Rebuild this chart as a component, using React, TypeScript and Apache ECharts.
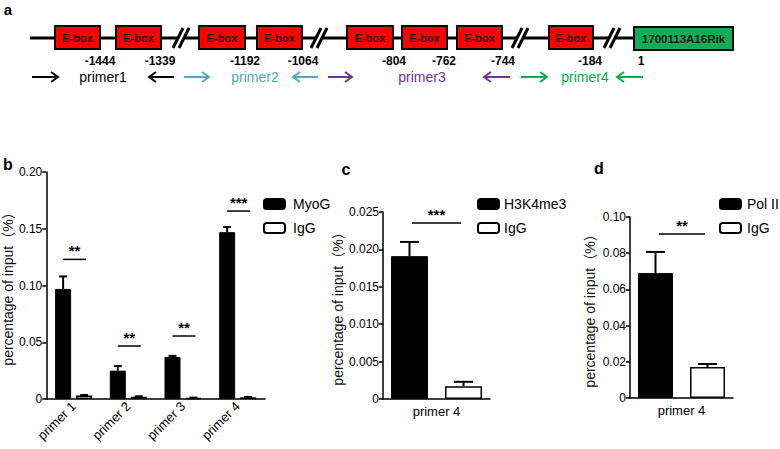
import React, { useEffect, useRef } from 'react';
import * as echarts from 'echarts';

const FONT = '"Liberation Sans", Arial, "Noto Sans CJK SC", sans-serif';

// ---------- Panel a (diagram) ----------
const eboxLabel = 'E-box';
const geneLabel = '1700113A16Rik';
const positionLabels = ['-1444', '-1339', '-1192', '-1064', '-804', '-762', '-744', '-184', '1'];
const primerNames = ['primer1', 'primer2', 'primer3', 'primer4'];
const primerColors = ['#000000', '#4bacc6', '#7030a0', '#00b050'];

// ---------- Panel b ----------
const bCategories = ['primer 1', 'primer 2', 'primer 3', 'primer 4'];
const bMyoG = [0.097, 0.025, 0.037, 0.147];
const bMyoGTop = [0.108, 0.029, 0.038, 0.1515];
const bIgG = [0.003, 0.002, 0.001, 0.0015];
const bIgGTop = [0.0035, 0.0024, 0.0012, 0.0018];
const bSigY = [0.123, 0.0467, 0.0555, 0.1656];
const bSigLabel = ['**', '**', '**', '***'];

// ---------- Panel c ----------
const cCategories = ['primer 4'];
const cH3K4me3 = [0.0191];
const cH3K4me3Top = [0.021];
const cIgG = [0.0017];
const cIgGTop = [0.0023];
const cSigY = [0.02353];
const cSigLabel = ['***'];

// ---------- Panel d ----------
const dCategories = ['primer 4'];
const dPolII = [0.069];
const dPolIITop = [0.0807];
const dIgG = [0.0171];
const dIgGTop = [0.0188];
const dSigY = [0.0906];
const dSigLabel = ['**'];

const yName = 'percentage of input（%）';

// layout of the diagram (pixels)
const boxSpans = [
  [55, 100], [116, 161], [199, 245], [257, 302], [347, 393], [402, 447], [457, 502], [549, 593],
];
const slashCenters = [182, 320, 521, 613];
const positionX = [100, 160, 245, 303, 394, 444, 503, 590, 641];
const primerTextX = [103, 255, 422, 585];
const arrowSpans = [
  [32, 58, 1], [149, 174, -1], [184, 209, 1], [293, 318, -1], [328, 352, 1], [484, 510, -1], [521, 547, 1], [617, 643, -1],
];

function arrow(x1: number, x2: number, dir: number, y: number, color: string) {
  const tip = dir > 0 ? x2 : x1;
  const back = tip - dir * 7;
  return [
    { type: 'line', shape: { x1, y1: y, x2, y2: y }, style: { stroke: color, lineWidth: 2 } },
    {
      type: 'polyline',
      shape: { points: [[back, y - 5], [tip, y], [back, y + 5]] },
      style: { stroke: color, lineWidth: 2, fill: null },
    },
  ];
}

function diagramGraphics() {
  const els: any[] = [];
  const ly = 38;
  els.push({ type: 'line', shape: { x1: 30, y1: ly, x2: 634, y2: ly }, style: { stroke: '#000', lineWidth: 3 } });
  slashCenters.forEach((cx) => {
    els.push({ type: 'rect', shape: { x: cx - 5, y: ly - 3, width: 8, height: 6 }, style: { fill: '#fff' } });
    els.push({ type: 'line', shape: { x1: cx - 9, y1: 48, x2: cx + 1, y2: 28 }, style: { stroke: '#000', lineWidth: 3 } });
    els.push({ type: 'line', shape: { x1: cx - 3, y1: 48, x2: cx + 7, y2: 28 }, style: { stroke: '#000', lineWidth: 3 } });
  });
  boxSpans.forEach(([x0, x1]) => {
    els.push({
      type: 'rect',
      shape: { x: x0, y: 26, width: x1 - x0, height: 23 },
      style: { fill: '#ff0000', stroke: '#000', lineWidth: 2 },
    });
    els.push({
      type: 'text',
      style: {
        text: eboxLabel, x: (x0 + x1) / 2, y: 37.5, align: 'center', verticalAlign: 'middle',
        fontSize: 11, fontWeight: 'bold', fill: '#2a0000', fontFamily: FONT,
      },
    });
  });
  els.push({
    type: 'rect',
    shape: { x: 634, y: 27, width: 99, height: 23 },
    style: { fill: '#13ad5a', stroke: '#000', lineWidth: 2 },
  });
  els.push({
    type: 'text',
    style: {
      text: geneLabel, x: 683.5, y: 38.5, align: 'center', verticalAlign: 'middle',
      fontSize: 11.5, fontWeight: 'bold', fill: '#0d1a10', fontFamily: FONT,
    },
  });
  positionLabels.forEach((t, i) => {
    els.push({
      type: 'text',
      style: {
        text: t, x: positionX[i], y: 61, align: 'center', verticalAlign: 'middle',
        fontSize: 12, fontWeight: 'bold', fill: '#000', fontFamily: FONT,
      },
    });
  });
  primerNames.forEach((t, i) => {
    els.push({
      type: 'text',
      style: {
        text: t, x: primerTextX[i], y: 77, align: 'center', verticalAlign: 'middle',
        fontSize: 14, fill: primerColors[i], fontFamily: FONT,
      },
    });
  });
  arrowSpans.forEach(([a, b, d], i) => {
    arrow(a, b, d, 77, primerColors[Math.floor(i / 2)]).forEach((e) => els.push(e));
  });
  const panelLabel = (t: string, x: number, y: number, size: number) => ({
    type: 'text',
    style: { text: t, x, y, align: 'center', verticalAlign: 'middle', fontSize: size, fontWeight: 'bold', fill: '#000', fontFamily: FONT },
  });
  els.push(panelLabel('a', 8, 9, 15));
  els.push(panelLabel('b', 8, 164, 16));
  els.push(panelLabel('c', 346, 169, 16));
  els.push(panelLabel('d', 599, 168, 16));
  return els;
}

function errorSeries(idx: number, vals: number[], tops: number[], offset: number, cap: number) {
  return {
    type: 'custom',
    xAxisIndex: idx,
    yAxisIndex: idx,
    silent: true,
    z: 1,
    data: vals.map((v, i) => [i, v, tops[i]]),
    renderItem: (params: any, api: any) => {
      const base = api.coord([api.value(0), api.value(1)]);
      const top = api.coord([api.value(0), api.value(2)]);
      const x = base[0] + offset;
      return {
        type: 'group',
        children: [
          { type: 'line', shape: { x1: x, y1: base[1], x2: x, y2: top[1] }, style: { stroke: '#000', lineWidth: 2 } },
          { type: 'line', shape: { x1: x - cap / 2, y1: top[1], x2: x + cap / 2, y2: top[1] }, style: { stroke: '#000', lineWidth: 2 } },
        ],
      };
    },
  };
}

function sigSeries(idx: number, ys: number[], labels: string[], width: number, dx: number) {
  return {
    type: 'custom',
    xAxisIndex: idx,
    yAxisIndex: idx,
    silent: true,
    z: 3,
    data: ys.map((y, i) => [i, y]),
    renderItem: (params: any, api: any) => {
      const p = api.coord([api.value(0), api.value(1)]);
      const cx = p[0] + dx;
      return {
        type: 'group',
        children: [
          { type: 'line', shape: { x1: cx - width / 2, y1: p[1], x2: cx + width / 2, y2: p[1] }, style: { stroke: '#000', lineWidth: 1.5 } },
          {
            type: 'text',
            style: {
              text: labels[params.dataIndex], x: cx, y: p[1] - 1, align: 'center', verticalAlign: 'bottom',
              fontSize: 15, fontWeight: 'bold', fill: '#000', fontFamily: FONT,
            },
          },
        ],
      };
    },
  };
}

function xAxisOf(idx: number, data: string[], rotate: number) {
  return {
    type: 'category',
    gridIndex: idx,
    data,
    axisLine: { lineStyle: { color: '#000', width: 1.5 } },
    axisTick: { alignWithLabel: true, length: 4, lineStyle: { color: '#000', width: 1.5 } },
    axisLabel: { rotate, fontSize: 13, color: '#000', margin: rotate ? 5 : 6, fontFamily: FONT },
    splitLine: { show: false },
  };
}

function yAxisOf(idx: number, max: number, interval: number, digits: number, gap: number) {
  return {
    type: 'value',
    gridIndex: idx,
    min: 0,
    max,
    interval,
    name: yName,
    nameLocation: 'middle',
    nameGap: gap,
    nameTextStyle: { fontSize: 14, color: '#111', fontFamily: FONT },
    axisLine: { show: true, lineStyle: { color: '#000', width: 1.5 } },
    axisTick: { show: true, length: 4, lineStyle: { color: '#000', width: 1.5 } },
    axisLabel: {
      fontSize: 12, color: '#000', margin: 4, fontFamily: FONT,
      formatter: (v: number) => (v === 0 ? '0' : v.toFixed(digits)),
    },
    splitLine: { show: false },
  };
}

function legendOf(names: string[], left: number, top: number, textPad: number) {
  return {
    data: names,
    left,
    top,
    orient: 'vertical',
    padding: 0,
    itemWidth: 21,
    itemHeight: 10,
    itemGap: 10,
    icon: 'roundRect',
    selectedMode: false,
    itemStyle: { borderColor: '#000', borderWidth: 2 },
    textStyle: { fontSize: 14, color: '#000', fontFamily: FONT, padding: [0, 0, 0, textPad] },
  };
}

const blackBar = { color: '#000', borderColor: '#000', borderWidth: 1 };
const whiteBar = { color: '#fff', borderColor: '#000', borderWidth: 1.5 };

export default function App() {
  const ref = useRef<HTMLDivElement>(null);
  useEffect(() => {
    document.body.style.margin = '0';
    if (!ref.current) return;
    const chart = echarts.init(ref.current, null, { renderer: 'svg' });
    chart.setOption({
      animation: false,
      backgroundColor: '#fff',
      textStyle: { fontFamily: FONT },
      grid: [
        { left: 43, top: 172, width: 222, height: 227 },
        { left: 383, top: 212, width: 107, height: 187 },
        { left: 630, top: 217, width: 103, height: 181 },
      ],
      xAxis: [xAxisOf(0, bCategories, 45), xAxisOf(1, cCategories, 0), xAxisOf(2, dCategories, 0)],
      yAxis: [
        yAxisOf(0, 0.2, 0.05, 2, 29),
        yAxisOf(1, 0.025, 0.005, 3, 36),
        yAxisOf(2, 0.1, 0.02, 2, 33),
      ],
      legend: [
        legendOf(['MyoG', 'IgG'], 263, 197, 3),
        legendOf(['H3K4me3', 'IgG'], 477, 197, 0),
        legendOf(['Pol II', 'IgG'], 719, 197, 1),
      ],
      series: [
        { type: 'bar', name: 'MyoG', xAxisIndex: 0, yAxisIndex: 0, data: bMyoG, barWidth: 16, barGap: '31%', itemStyle: blackBar },
        { type: 'bar', name: 'IgG', xAxisIndex: 0, yAxisIndex: 0, data: bIgG, barWidth: 16, barGap: '31%', itemStyle: whiteBar },
        errorSeries(0, bMyoG, bMyoGTop, -10.5, 8),
        errorSeries(0, bIgG, bIgGTop, 10.5, 8),
        sigSeries(0, bSigY, bSigLabel, 23, 1),

        { type: 'bar', name: 'H3K4me3', xAxisIndex: 1, yAxisIndex: 1, data: cH3K4me3, barWidth: 37, barGap: '46%', itemStyle: blackBar },
        { type: 'bar', name: 'IgG', xAxisIndex: 1, yAxisIndex: 1, data: cIgG, barWidth: 37, barGap: '46%', itemStyle: whiteBar },
        errorSeries(1, cH3K4me3, cH3K4me3Top, -27, 19),
        errorSeries(1, cIgG, cIgGTop, 27, 19),
        sigSeries(1, cSigY, cSigLabel, 49, 0),

        { type: 'bar', name: 'Pol II', xAxisIndex: 2, yAxisIndex: 2, data: dPolII, barWidth: 35, barGap: '48.6%', itemStyle: blackBar },
        { type: 'bar', name: 'IgG', xAxisIndex: 2, yAxisIndex: 2, data: dIgG, barWidth: 35, barGap: '48.6%', itemStyle: whiteBar },
        errorSeries(2, dPolII, dPolIITop, -26, 19),
        errorSeries(2, dIgG, dIgGTop, 26, 19),
        sigSeries(2, dSigY, dSigLabel, 46, 0.5),
      ],
      graphic: { elements: diagramGraphics() },
    });
    return () => chart.dispose();
  }, []);
  return <div ref={ref} style={{ width: 780, height: 449 }} />;
}
